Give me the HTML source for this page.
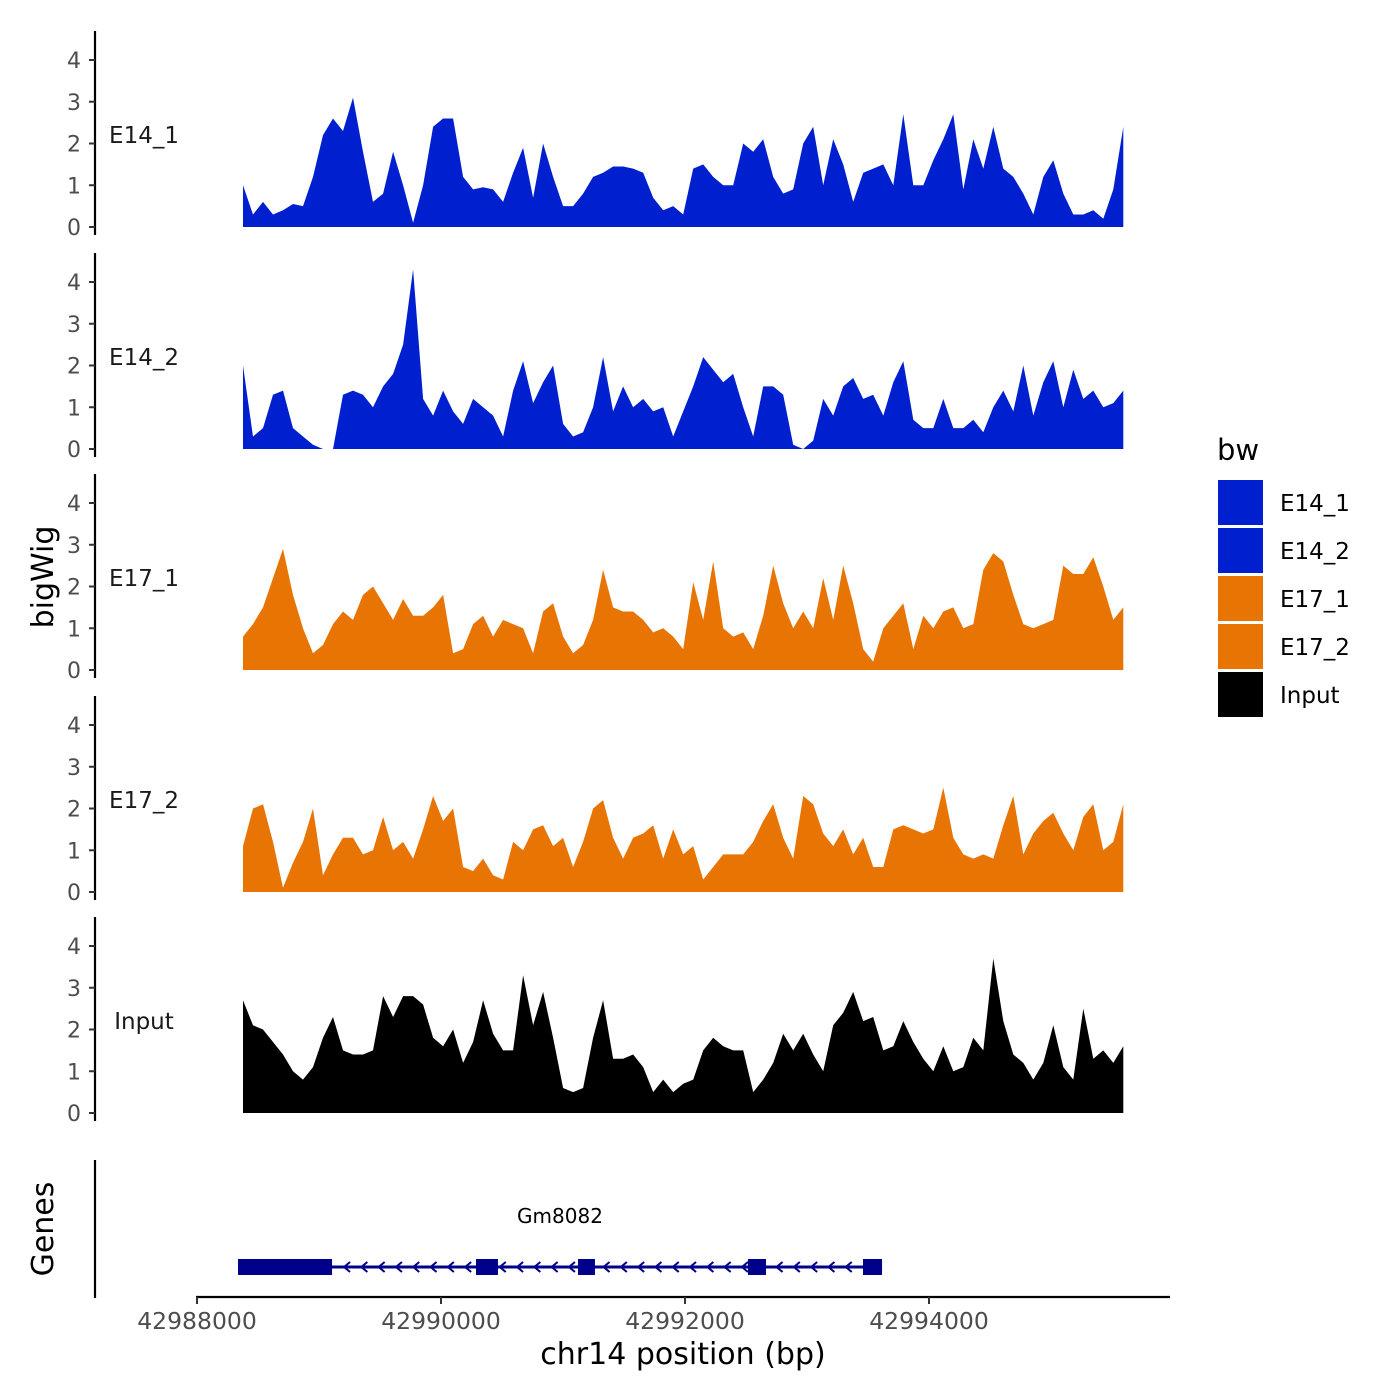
<!DOCTYPE html>
<html><head><meta charset="utf-8">
<style>html,body{margin:0;padding:0;background:#fff}svg{display:block;font-family:"DejaVu Sans","Liberation Sans",sans-serif}</style>
</head><body>
<svg id="chart" width="1400" height="1400" viewBox="0 0 1400 1400" xmlns="http://www.w3.org/2000/svg"></svg>
<script>
const trackNames = ["E14_1","E14_2","E17_1","E17_2","Input"];
const trackColors = ["#0020D0","#0020D0","#E87503","#E87503","#000000"];
const yTicks = [0,1,2,3,4];
const xTickValues = [42988000,42990000,42992000,42994000];
const binStart = 42988377;
const binSize = 82;
const e14_1 = [1.0,0.3,0.6,0.3,0.4,0.55,0.5,1.2,2.2,2.6,2.3,3.1,1.8,0.6,0.8,1.8,1.0,0.1,1.0,2.4,2.6,2.6,1.2,0.9,0.95,0.9,0.6,1.3,1.9,0.7,2.0,1.2,0.5,0.5,0.8,1.2,1.3,1.45,1.45,1.4,1.3,0.7,0.4,0.5,0.3,1.4,1.5,1.2,1.0,1.0,2.0,1.8,2.1,1.2,0.8,0.9,2.0,2.4,1.0,2.1,1.5,0.6,1.3,1.4,1.5,1.0,2.7,1.0,1.0,1.6,2.1,2.7,0.9,2.1,1.4,2.4,1.4,1.2,0.8,0.3,1.2,1.6,0.8,0.3,0.3,0.4,0.2,0.9,2.4];
const e14_2 = [2.0,0.3,0.5,1.3,1.4,0.5,0.3,0.1,0,0,1.3,1.4,1.3,1.0,1.5,1.8,2.5,4.3,1.2,0.8,1.4,0.9,0.6,1.2,1.0,0.8,0.3,1.4,2.1,1.1,1.6,2.0,0.6,0.3,0.4,1.0,2.2,0.9,1.5,1.0,1.2,0.9,1.0,0.3,0.9,1.5,2.2,1.9,1.6,1.8,1.0,0.3,1.5,1.5,1.3,0.1,0,0.2,1.2,0.8,1.5,1.7,1.2,1.3,0.8,1.6,2.1,0.7,0.5,0.5,1.2,0.5,0.5,0.7,0.4,1.0,1.4,0.9,2.0,0.8,1.6,2.1,1.0,1.9,1.2,1.4,1.0,1.1,1.4];
const e17_1 = [0.8,1.1,1.5,2.2,2.9,1.8,1.0,0.4,0.6,1.1,1.4,1.2,1.8,2.0,1.6,1.2,1.7,1.3,1.3,1.5,1.8,0.4,0.5,1.1,1.3,0.8,1.2,1.1,1.0,0.4,1.4,1.6,0.8,0.4,0.6,1.2,2.4,1.5,1.4,1.4,1.2,0.9,1.0,0.8,0.5,2.1,1.2,2.6,1.0,0.8,0.9,0.5,1.3,2.5,1.6,1.0,1.4,1.0,2.2,1.2,2.5,1.6,0.5,0.2,1.0,1.3,1.6,0.5,1.3,1.0,1.4,1.5,1.0,1.1,2.4,2.8,2.6,1.8,1.1,1.0,1.1,1.2,2.5,2.3,2.3,2.7,2.0,1.2,1.5];
const e17_2 = [1.1,2.0,2.1,1.2,0.1,0.7,1.2,2.0,0.4,0.9,1.3,1.3,0.9,1.0,1.8,1.0,1.2,0.8,1.5,2.3,1.7,2.0,0.6,0.5,0.8,0.4,0.3,1.2,1.0,1.5,1.6,1.1,1.3,0.6,1.2,2.0,2.2,1.3,0.8,1.3,1.4,1.6,0.8,1.5,0.9,1.1,0.3,0.6,0.9,0.9,0.9,1.2,1.7,2.1,1.3,0.8,2.3,2.1,1.4,1.1,1.5,0.9,1.3,0.6,0.6,1.5,1.6,1.5,1.4,1.5,2.5,1.3,0.9,0.8,0.9,0.8,1.6,2.3,0.9,1.4,1.7,1.9,1.4,1.0,1.8,2.1,1.0,1.2,2.1];
const input = [2.7,2.1,2.0,1.7,1.4,1.0,0.8,1.1,1.8,2.3,1.5,1.4,1.4,1.5,2.8,2.3,2.8,2.8,2.6,1.8,1.6,2.0,1.2,1.7,2.7,1.9,1.5,1.5,3.3,2.1,2.9,1.8,0.6,0.5,0.6,1.8,2.7,1.3,1.3,1.4,1.1,0.5,0.8,0.5,0.7,0.8,1.5,1.8,1.6,1.5,1.5,0.5,0.8,1.2,1.9,1.5,1.9,1.4,1.0,2.1,2.4,2.9,2.2,2.3,1.5,1.6,2.2,1.7,1.3,1.0,1.6,1.0,1.1,1.8,1.5,3.7,2.2,1.4,1.2,0.8,1.2,2.1,1.1,0.8,2.5,1.3,1.5,1.2,1.6];
const seriesList = [e14_1,e14_2,e17_1,e17_2,input];
const geneName = "Gm8082";
const geneStart = 42988336;
const geneEnd = 42993615;
const exonStarts = [42988336,42990287,42991123,42992516,42993459];
const exonEnds = [42989107,42990467,42991262,42992664,42993615];

const NS = "http://www.w3.org/2000/svg";
const svg = document.getElementById('chart');
function el(tag, attrs, parent){const e=document.createElementNS(NS,tag);for(const k in attrs)e.setAttribute(k,attrs[k]);(parent||svg).appendChild(e);return e;}
function xs(bp){return 197 + (bp-42988000)*244/2000;}
const zeros = [227,449,670,892,1113];
const unit = 41.75;

seriesList.forEach((vals,i)=>{
  const z = zeros[i];
  const ys = v => z - v*unit;
  const g = el('g',{});
  
  
  const ax = el('line',{x1:95,x2:95,y1:z-196,y2:z+8,stroke:'#000','stroke-width':2.2},g);
  
  
  yTicks.forEach(t=>{
    const tk = el('line',{x1:89,x2:95,y1:ys(t),y2:ys(t),stroke:'#333','stroke-width':2},g);
    
    
    const tl = el('text',{x:81,y:ys(t)+8,'text-anchor':'end','font-size':22,fill:'#4d4d4d'},g);
    tl.textContent = t;
    
    
  });
  const lab = el('text',{x:144,y:z-84,'text-anchor':'middle','font-size':23,fill:'#1a1a1a'},g);
  lab.textContent = trackNames[i];
  
  
  let d = 'M'+xs(binStart)+','+z;
  vals.forEach((v,j)=>{d += ' L'+xs(binStart+j*binSize).toFixed(1)+','+ys(v).toFixed(1);});
  d += ' L'+xs(binStart+(vals.length-1)*binSize).toFixed(1)+','+z+' Z';
  const p = el('path',{d:d,fill:trackColors[i]},g);
  
  
});

const gg = el('g',{});


const gax = el('line',{x1:95,x2:95,y1:1160,y2:1298,stroke:'#000','stroke-width':2.2},gg);


const gy = 1267;
const intron = el('line',{x1:xs(geneStart),x2:xs(geneEnd),y1:gy,y2:gy,stroke:'#00008B','stroke-width':3},gg);


for(let x = xs(exonEnds[0])+14; x < xs(geneEnd)-8; x += 17.3){
  const c = el('path',{d:`M${x+4},${gy-5} L${x-2},${gy} L${x+4},${gy+5}`,fill:'none',stroke:'#00008B','stroke-width':2},gg);
  
  
}
exonStarts.forEach((s,k)=>{
  const r = el('rect',{x:xs(s),y:gy-8,width:xs(exonEnds[k])-xs(s),height:16,fill:'#00008B'},gg);
  
  
});
const gl = el('text',{x:560,y:1223,'text-anchor':'middle','font-size':20,fill:'#000'},gg);
gl.textContent = geneName;



const xa = el('line',{x1:196,x2:1170,y1:1297,y2:1297,stroke:'#000','stroke-width':2.2});


xTickValues.forEach(v=>{
  const t = el('line',{x1:xs(v),x2:xs(v),y1:1297,y2:1304,stroke:'#333','stroke-width':2});
  
  
  const l = el('text',{x:xs(v),y:1329,'text-anchor':'middle','font-size':23.5,fill:'#4d4d4d'});
  l.textContent = v;
  
  
});
const xt = el('text',{x:683,y:1364,'text-anchor':'middle','font-size':30,fill:'#000'});
xt.textContent = 'chr14 position (bp)';


const yt = el('text',{x:0,y:0,'text-anchor':'middle','font-size':30,fill:'#000',transform:'translate(53,577) rotate(-90)'});
yt.textContent = 'bigWig';


const gt = el('text',{x:0,y:0,'text-anchor':'middle','font-size':30,fill:'#000',transform:'translate(53,1229) rotate(-90)'});
gt.textContent = 'Genes';



const lg = el('g',{});


const lt = el('text',{x:1217,y:460,'font-size':29,fill:'#000'},lg);
lt.textContent = 'bw';


trackNames.forEach((n,i)=>{
  const r = el('rect',{x:1218,y:480+i*48,width:45,height:45,fill:trackColors[i]},lg);
  
  
  const t = el('text',{x:1280,y:511+i*48,'font-size':23,fill:'#000'},lg);
  t.textContent = n;
  
  
});
</script>
</body></html>
